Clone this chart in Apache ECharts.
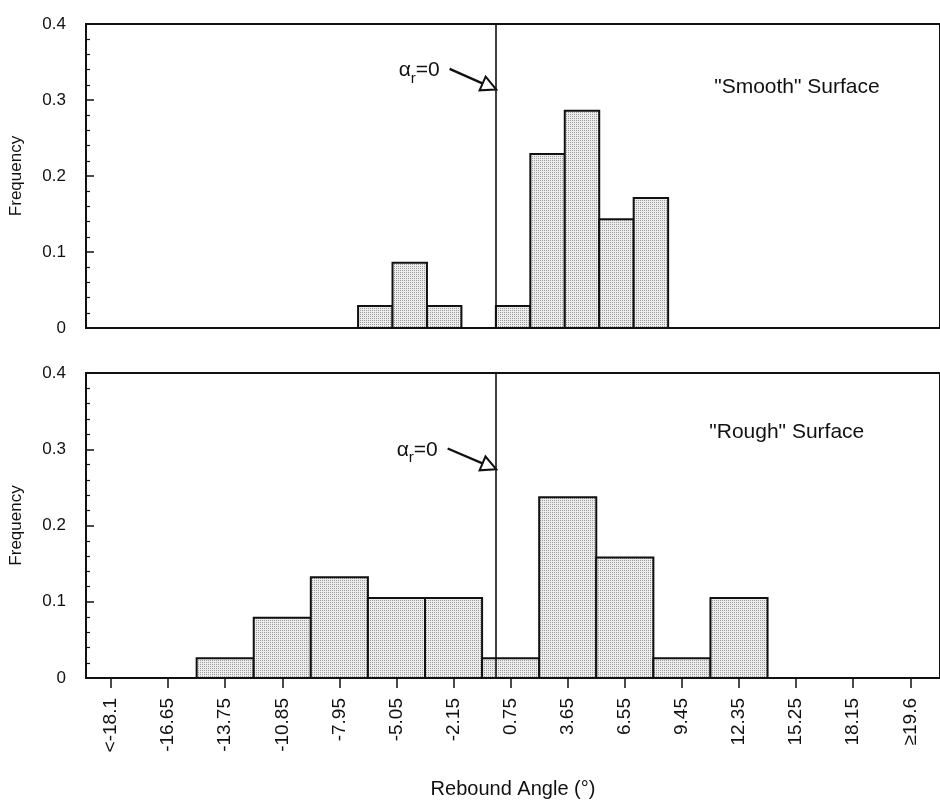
<!DOCTYPE html>
<html>
<head>
<meta charset="utf-8">
<script src="https://cdn.jsdelivr.net/npm/echarts@6.0.0/dist/echarts.min.js"></script>
<style>
html, body { margin: 0; background: #fff; }
#main { width: 940px; height: 800px; }
</style>
</head>
<body>
<div id="main"></div>
<script>
// rebound angle axis: tick labels and where they sit (degrees)
var angleLabels = ['<-18.1', '-16.65', '-13.75', '-10.85', '-7.95', '-5.05', '-2.15', '0.75',
	'3.65', '6.55', '9.45', '12.35', '15.25', '18.15', '\u226519.6'];
var angleTicks = [-19.55, -16.65, -13.75, -10.85, -7.95, -5.05, -2.15, 0.75,
	3.65, 6.55, 9.45, 12.35, 15.25, 18.15, 21.05];

// "Rough" surface, one bin per tick, 2.9 deg wide
var roughFreq = [0, 0, 0.026, 0.079, 0.132, 0.105, 0.105, 0.026, 0.237, 0.158, 0.026, 0.105, 0, 0, 0];
var roughBinWidth = 2.9;

// "Smooth" surface, finer bins given by their edges
var smoothEdges = [-7, -5.25, -3.5, -1.75, 0, 1.75, 3.5, 5.25, 7, 8.75];
var smoothFreq = [0.029, 0.086, 0.029, 0, 0.029, 0.229, 0.286, 0.143, 0.171];

var txtFont = '"Liberation Sans", Arial, sans-serif';
var ink = '#111';

var myChart = echarts.init(document.getElementById('main'));

// stippled grey fill like the printed figure
var dots = document.createElement('canvas');
dots.width = 2;
dots.height = 2;
var ctx = dots.getContext('2d');
ctx.fillStyle = '#ececec';
ctx.fillRect(0, 0, 2, 2);
ctx.fillStyle = '#9c9c9c';
ctx.fillRect(0, 0, 1, 1);
var stipple = { image: dots, repeat: 'repeat' };

var smoothData = [];
for (var i = 0; i < smoothFreq.length; i++) {
	smoothData.push([smoothEdges[i], smoothEdges[i + 1], smoothFreq[i]]);
}
var roughData = [];
for (var i = 0; i < roughFreq.length; i++) {
	roughData.push([angleTicks[i] - roughBinWidth / 2, angleTicks[i] + roughBinWidth / 2, roughFreq[i]]);
}

function renderBin(params, api) {
	if (!api.value(2)) return;
	var p0 = api.coord([api.value(0), api.value(2)]);
	var p1 = api.coord([api.value(1), 0]);
	return {
		type: 'rect',
		shape: { x: p0[0], y: p0[1], width: p1[0] - p0[0], height: p1[1] - p0[1] },
		style: { fill: stipple, stroke: ink, lineWidth: 2 }
	};
}

var alphaRich = {
	a: { fontSize: 21, fontFamily: txtFont, color: ink },
	s: { fontSize: 15, fontFamily: txtFont, color: ink, padding: [16, 0, 0, 0] }
};

function marks(arrowFrom, arrowTo, alphaAt, titleAt, title) {
	return {
		markLine: {
			silent: true,
			animation: false,
			symbol: ['none', 'none'],
			label: { show: false },
			lineStyle: { color: ink, width: 1.6, type: 'solid' },
			data: [
				{ xAxis: 0 },
				[{ coord: arrowFrom, lineStyle: { width: 2.4 } },
				 { coord: arrowTo, symbol: 'emptyTriangle', symbolSize: [15, 15], symbolOffset: [0, 7] }]
			]
		},
		markPoint: {
			silent: true,
			animation: false,
			symbol: 'circle',
			symbolSize: 0,
			data: [
				{ coord: alphaAt, label: { show: true, position: 'left', distance: 0,
					formatter: '{a|\u03b1}{s|r}{a|=0}', rich: alphaRich } },
				{ coord: titleAt, label: { show: true, position: 'right', distance: 0,
					formatter: title, fontSize: 21, fontFamily: txtFont, color: ink } }
			]
		}
	};
}

function yAxisFor(idx) {
	return {
		type: 'value', gridIndex: idx, min: 0, max: 0.4, interval: 0.1,
		name: 'Frequency', nameLocation: 'middle', nameGap: 61,
		nameTextStyle: { fontSize: 17, fontFamily: txtFont, color: ink },
		axisLine: { show: false, onZero: false },
		axisTick: { show: true, inside: true, length: 8, lineStyle: { color: ink, width: 1.5 } },
		minorTick: { show: true, splitNumber: 5, length: 4, lineStyle: { color: ink, width: 1.2 } },
		axisLabel: { fontSize: 17, fontFamily: txtFont, color: ink, margin: 20 },
		splitLine: { show: false }
	};
}

var smoothSeries = {
	type: 'custom', xAxisIndex: 0, yAxisIndex: 0,
	renderItem: renderBin, encode: { x: [0, 1], y: 2 }, data: smoothData
};
Object.assign(smoothSeries, marks([-2.35, 0.341], [0, 0.314], [-2.85, 0.339], [11.09, 0.317], '"Smooth" Surface'));

var roughSeries = {
	type: 'custom', xAxisIndex: 1, yAxisIndex: 1,
	renderItem: renderBin, encode: { x: [0, 1], y: 2 }, data: roughData
};
Object.assign(roughSeries, marks([-2.45, 0.301], [0, 0.274], [-2.95, 0.299], [10.84, 0.322], '"Rough" Surface'));

var option = {
	animation: false,
	backgroundColor: '#fff',
	grid: [
		{ left: 83, right: -5, top: 24, height: 304, show: true, borderColor: ink, borderWidth: 2 },
		{ left: 83, right: -5, top: 373, height: 306, show: true, borderColor: ink, borderWidth: 2 }
	],
	xAxis: [
		{
			type: 'value', gridIndex: 0, min: -20.82, max: 22.56,
			axisLine: { show: false, onZero: false }, axisTick: { show: false },
			axisLabel: { show: false }, splitLine: { show: false }
		},
		{
			type: 'value', gridIndex: 1, min: -20.82, max: 22.56,
			name: 'Rebound Angle (\u00b0)', nameLocation: 'middle', nameGap: 101,
			nameTextStyle: { fontSize: 20, fontFamily: txtFont, color: ink },
			axisLine: { show: false, onZero: false },
			axisTick: { show: true, customValues: angleTicks, length: 10, lineStyle: { color: ink, width: 1.5 } },
			axisLabel: {
				customValues: angleTicks, rotate: 90, margin: 20,
				fontSize: 19, fontFamily: txtFont, color: ink,
				formatter: function (v) {
					for (var k = 0; k < angleTicks.length; k++) {
						if (Math.abs(angleTicks[k] - v) < 1e-6) return angleLabels[k];
					}
					return '';
				}
			},
			splitLine: { show: false }
		}
	],
	yAxis: [yAxisFor(0), yAxisFor(1)],
	series: [smoothSeries, roughSeries]
};
myChart.setOption(option);
</script>
</body>
</html>
